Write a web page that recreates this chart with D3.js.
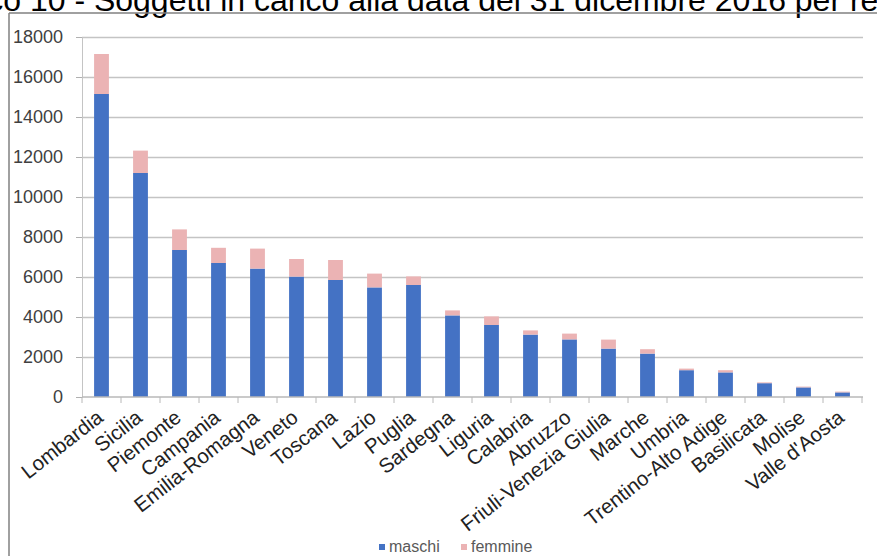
<!DOCTYPE html>
<html>
<head>
<meta charset="utf-8">
<script src="https://cdn.jsdelivr.net/npm/d3@7"></script>
<style>
  html, body { margin: 0; padding: 0; background: #fff; overflow: hidden; }
  svg { display: block; font-family: "Liberation Sans", Arial, sans-serif; }
</style>
</head>
<body>
<svg id="chart" width="877" height="556"></svg>
<script>
const titlePrefix = "Grafico ";
const titleText = "10 - Soggetti in carico alla data del 31 dicembre 2016 per regione";

const categories = ["Lombardia","Sicilia","Piemonte","Campania","Emilia-Romagna","Veneto","Toscana","Lazio","Puglia","Sardegna","Liguria","Calabria","Abruzzo","Friuli-Venezia Giulia","Marche","Umbria","Trentino-Alto Adige","Basilicata","Molise","Valle d'Aosta"];
const maschi  = [15150, 11200, 7350, 6700, 6420, 6020, 5850, 5480, 5600, 4080, 3600, 3120, 2880, 2420, 2170, 1340, 1230, 690, 480, 230];
const femmine = [2000, 1120, 1030, 760, 1000, 880, 1000, 690, 430, 250, 430, 210, 290, 450, 220, 80, 110, 40, 40, 40];
const seriesNames = ["maschi", "femmine"];
const seriesColors = ["#4472c4", "#ebb3b4"];
const yTicks = [0, 2000, 4000, 6000, 8000, 10000, 12000, 14000, 16000, 18000];

const svg = d3.select("#chart");
const plot = { left: 82, right: 862, top: 37, bottom: 397 };

// Title (partially cut at top, as in reference)
const tmp = svg.append("text").attr("font-size", 32).text(titlePrefix);
const pw = tmp.node().getComputedTextLength();
tmp.remove();
svg.append("text")
  .attr("x", 21 - pw).attr("y", 11)
  .attr("font-size", 32).attr("fill", "#000")
  .text(titlePrefix + titleText);

// Chart frame
svg.append("line").attr("x1", 9).attr("x2", 877).attr("y1", 13).attr("y2", 13)
  .attr("stroke", "#808080").attr("stroke-width", 1.5);
svg.append("line").attr("x1", 9).attr("x2", 9).attr("y1", 13).attr("y2", 556)
  .attr("stroke", "#808080").attr("stroke-width", 1.5);

const x = d3.scaleBand().domain(categories).range([plot.left, plot.right])
  .paddingInner(0.62).paddingOuter(0.31);
const y = d3.scaleLinear().domain([0, 18000]).range([plot.bottom, plot.top]);

// Gridlines
svg.append("g").attr("transform", `translate(${plot.left},0)`)
  .call(d3.axisLeft(y).tickValues(yTicks.slice(1)).tickSize(-(plot.right - plot.left + 1)).tickFormat(""))
  .call(g => g.select(".domain").remove())
  .call(g => g.selectAll("line").attr("stroke", "#c4c4c4").attr("stroke-width", 1.5));

// Y axis
svg.append("g").attr("transform", `translate(${plot.left},0)`)
  .call(d3.axisLeft(y).tickValues(yTicks).tickSize(6).tickPadding(13).tickFormat(d3.format("d")))
  .call(g => g.select(".domain").attr("stroke", "#c4c4c4").attr("stroke-width", 1))
  .call(g => g.selectAll(".tick line").attr("stroke", "#b0b0b0"))
  .call(g => g.selectAll("text").attr("font-size", 18).attr("fill", "#404040")
     .attr("font-family", "Liberation Sans, Arial, sans-serif"));

// Stacked bars
const stackData = categories.map((c, i) => ({ cat: c, maschi: maschi[i], femmine: femmine[i] }));
const stacked = d3.stack().keys(seriesNames)(stackData);
svg.append("g").selectAll("g").data(stacked).join("g")
  .attr("fill", (d, i) => seriesColors[i])
  .selectAll("rect").data(d => d).join("rect")
  .attr("x", d => x(d.data.cat))
  .attr("width", x.bandwidth())
  .attr("y", d => y(d[1]))
  .attr("height", d => y(d[0]) - y(d[1]));

// X axis line + ticks between categories
const xa = svg.append("g");
xa.append("line").attr("x1", plot.left).attr("x2", plot.right + 1)
  .attr("y1", plot.bottom).attr("y2", plot.bottom)
  .attr("stroke", "#b8b8b8").attr("stroke-width", 1.5);
const gap = (x.step() - x.bandwidth()) / 2;
const boundaries = categories.map(c => x(c) - gap).concat([x(categories[categories.length - 1]) + x.bandwidth() + gap]);
xa.selectAll("line.tk").data(boundaries).join("line").attr("class", "tk")
  .attr("x1", d => d).attr("x2", d => d)
  .attr("y1", plot.bottom).attr("y2", plot.bottom + 6)
  .attr("stroke", "#b8b8b8");

// Category labels
svg.append("g").selectAll("text").data(categories).join("text")
  .attr("transform", d => `translate(${x(d) + x.bandwidth() / 2 + 3},${plot.bottom + 23}) rotate(-38)`)
  .attr("text-anchor", "end")
  .attr("font-size", 20.5).attr("fill", "#222")
  .text(d => d);

// Legend
const legend = svg.append("g");
const legendX = [379, 461];
seriesNames.forEach((s, i) => {
  legend.append("rect").attr("x", legendX[i]).attr("y", 544).attr("width", 6).attr("height", 6)
    .attr("fill", seriesColors[i]);
  legend.append("text").attr("x", legendX[i] + 10).attr("y", 552)
    .attr("font-size", 16).attr("fill", "#595959").text(s);
});
</script>
</body>
</html>
